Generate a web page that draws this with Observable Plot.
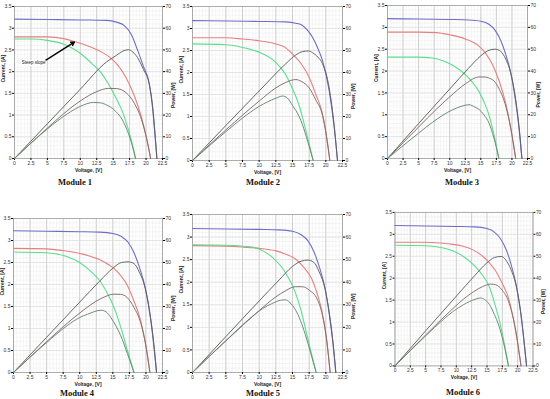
<!DOCTYPE html>
<html><head><meta charset="utf-8">
<script src="https://cdn.jsdelivr.net/npm/d3@7"></script>
<script src="https://cdn.jsdelivr.net/npm/@observablehq/plot@0.6"></script>
<style>
body{margin:0;background:#fff;}
#wrap{position:relative;width:550px;height:399px;overflow:hidden;background:#fff;}
.panel{position:absolute;}
.mlabel{position:absolute;font-family:"Liberation Serif","Times New Roman",serif;font-weight:bold;font-size:8.5px;line-height:10px;transform:translateX(-50%);white-space:nowrap;color:#111;}
</style></head><body><div id="wrap"></div>
<script>
// ---------- data ----------
const moduleNames = ["Module 1","Module 2","Module 3","Module 4","Module 5","Module 6"];
const xTicks = [0,2.5,5,7.5,10,12.5,15,17.5,20,22.5];
const currentTicks = [0,0.5,1,1.5,2,2.5,3,3.5];
const powerTicks = [0,10,20,30,40,50,60,70];

// I-V curves: [voltage V, current A]
const ivBlue = [
  [[0,3.21],[5,3.2],[10,3.19],[14,3.18],[15.5,3.14],[16.7,3.06],[17.7,2.87],[18.7,2.5],[19.6,2.12],[20.5,1.72],[21.0,1.15],[21.35,0.55],[21.65,0]],
  [[0,3.18],[5,3.17],[10,3.16],[14,3.15],[15.5,3.12],[16.5,3.07],[17.3,2.95],[18,2.8],[18.8,2.55],[19.5,2.27],[20.5,1.59],[21.25,0.76],[21.75,0]],
  [[0,3.2],[5,3.19],[10,3.18],[13,3.17],[15,3.14],[16.3,3.07],[17.3,2.93],[18.2,2.7],[19,2.38],[19.9,1.9],[20.7,1.2],[21.2,0.6],[21.6,0]],
  [[0,3.22],[5,3.21],[10,3.2],[13,3.19],[15,3.16],[16.3,3.09],[17.3,2.96],[18.2,2.72],[19,2.4],[19.9,1.92],[20.7,1.22],[21.2,0.6],[21.6,0]],
  [[0,3.19],[5,3.18],[10,3.17],[13,3.16],[15,3.13],[16.3,3.05],[17.3,2.92],[18.2,2.68],[19,2.35],[19.9,1.85],[20.6,1.2],[21.1,0.6],[21.5,0]],
  [[0,3.2],[5,3.19],[10,3.18],[13,3.17],[15,3.13],[16.2,3.05],[17.2,2.9],[18.1,2.66],[18.9,2.33],[19.8,1.82],[20.5,1.2],[21,0.6],[21.45,0]]
];
const ivRed = [
  [[0,2.8],[5,2.8],[7.5,2.76],[9,2.7],[11,2.6],[13,2.47],[14.5,2.33],[15.7,2.15],[17,1.85],[18.2,1.45],[19.3,0.95],[20.1,0.45],[20.7,0]],
  [[0,2.79],[5,2.79],[7.5,2.76],[10,2.72],[12.5,2.65],[14,2.56],[15,2.42],[16.3,2.2],[17.5,1.89],[18.5,1.5],[19.5,1.06],[20.1,0.55],[20.6,0]],
  [[0,2.89],[5,2.89],[7.8,2.88],[10,2.83],[12.6,2.73],[14.7,2.57],[15.8,2.4],[16.9,2.14],[18,1.75],[19,1.26],[19.8,0.7],[20.6,0]],
  [[0,2.82],[5,2.81],[7.5,2.77],[10.2,2.7],[13.2,2.55],[15.2,2.36],[16.2,2.2],[17.2,1.98],[18.2,1.62],[19.2,1.18],[20,0.6],[20.6,0]],
  [[0,2.81],[5,2.8],[7.5,2.78],[10,2.75],[12.4,2.7],[14,2.62],[15.4,2.52],[16.7,2.33],[17.9,2.07],[18.7,1.75],[19.4,1.37],[20.1,0.75],[20.65,0]],
  [[0,2.82],[5,2.82],[7.5,2.8],[9.5,2.77],[11.1,2.73],[12.8,2.64],[14.3,2.5],[15.4,2.35],[16.4,2.17],[17.5,1.88],[18.5,1.55],[19.6,0.85],[20.55,0]]
];
const ivGreen = [
  [[0,2.75],[2.5,2.75],[5,2.72],[7.5,2.63],[9,2.52],[10.5,2.36],[12,2.15],[13.1,1.99],[14.1,1.76],[15.1,1.49],[16.7,0.96],[17.9,0.34],[18.4,0]],
  [[0,2.65],[5,2.63],[7.5,2.57],[10,2.46],[12.5,2.23],[14,1.95],[15,1.63],[16,1.25],[16.5,0.98],[17.3,0.5],[18.1,0]],
  [[0,2.32],[5,2.32],[7.2,2.3],[9,2.23],[10.4,2.14],[12.6,1.91],[14.7,1.53],[15.5,1.3],[16.3,1.0],[17.1,0.55],[17.9,0]],
  [[0,2.74],[5,2.72],[8.15,2.63],[10,2.5],[11.2,2.36],[13.2,2.05],[14.7,1.64],[15.5,1.35],[16.2,1.03],[17.2,0.5],[18.2,0]],
  [[0,2.83],[5,2.82],[8.9,2.78],[10.5,2.7],[11.9,2.56],[13.9,2.22],[15.4,1.78],[16.2,1.42],[16.9,1.0],[17.7,0.5],[18.55,0]],
  [[0,2.75],[5,2.74],[7.9,2.69],[9.5,2.62],[11.1,2.5],[13.2,2.25],[14.3,2.06],[15.4,1.8],[16.2,1.45],[16.9,1.1],[17.7,0.6],[18.5,0]]
];
// P-V curves: [voltage V, power W]
const pvBlue = [
  [[0,0],[5,16],[10,31.9],[14,44.5],[15.5,47.5],[16.5,49.5],[17.3,50.1],[18,49],[18.7,46.5],[19.6,41],[20.5,34],[21,24],[21.35,12],[21.65,0]],
  [[0,0],[5,15.9],[10,31.6],[14,44],[15.5,48],[16.5,49.5],[17.4,49.8],[18,49],[18.8,47],[19.5,44],[20.5,33],[21.25,16],[21.75,0]],
  [[0,0],[5,16],[10,31.8],[13,41.2],[15,47],[16.3,49.5],[17.3,50],[18.2,49],[19,45.5],[19.9,38],[20.7,25],[21.2,13],[21.6,0]],
  [[0,0],[5,16],[10,32],[13,41.5],[15,47.4],[16.3,50],[17.3,50.3],[18.2,49.5],[19,45.6],[19.9,38.2],[20.7,25],[21.2,12.7],[21.6,0]],
  [[0,0],[5,15.9],[10,31.7],[13,41],[15,47],[16.3,49.3],[17.3,49.8],[18.2,48.8],[19,44.6],[19.9,36.8],[20.6,24.7],[21.1,12.7],[21.5,0]],
  [[0,0],[5,16],[10,31.8],[13,41.2],[15,47],[16.2,49.4],[17.3,49.9],[18.1,48.2],[18.9,44],[19.8,36],[20.5,24.6],[21,12.6],[21.45,0]]
];
const pvRed = [
  [[0,0],[5,14],[7.5,20.7],[10,26.5],[12.5,30.8],[14.3,32.3],[15.5,32.2],[17,30.2],[18.2,25.5],[19.3,18],[20.1,9],[20.7,0]],
  [[0,0],[5,13.9],[10,27],[12.5,33],[14,35.5],[15.5,36.8],[16.3,36],[17.5,33],[18.5,27.5],[19.5,20.5],[20.1,11],[20.6,0]],
  [[0,0],[5,14.4],[7.8,22.4],[10,28.2],[12.6,34.3],[14.7,37.3],[15.5,37.3],[16.9,36],[18,31.5],[19,24],[19.8,14],[20.6,0]],
  [[0,0],[5,14],[7.5,20.8],[10.2,27.5],[13.2,33.6],[15.2,35.6],[16.2,35.5],[17.2,34],[18.2,29.5],[19.2,22.6],[20,12],[20.6,0]],
  [[0,0],[5,14],[7.5,20.8],[10,27.4],[12.4,33.3],[14,36.3],[15.4,38],[16.5,38],[17.5,36.5],[18.7,32.5],[19.4,26.5],[20.1,15],[20.65,0]],
  [[0,0],[5,14.1],[7.5,21],[9.5,26.3],[11.1,30.3],[12.8,33.8],[14.3,36.2],[15.6,37.3],[16.4,37],[17.5,34.5],[18.5,29.5],[19.6,17.5],[20.55,0]]
];
const pvGreen = [
  [[0,0],[5,13.6],[8,20.5],[10,24],[12,25.8],[13.1,25.6],[14.1,24.5],[15.1,22.5],[16.7,16],[17.9,6],[18.4,0]],
  [[0,0],[5,13.1],[7.5,19.3],[10,24.6],[12.5,28.3],[13.5,29.3],[14.2,28.5],[15,25],[16,20],[16.5,16.2],[17.3,8.5],[18.1,0]],
  [[0,0],[5,11.6],[7.2,16.5],[10.4,22.2],[12,24],[13.1,24.6],[14,23.6],[14.7,22.5],[15.5,20],[16.3,16.3],[17.1,9.4],[17.9,0]],
  [[0,0],[5,13.6],[8.15,21.4],[10,25],[11.2,26.5],[13.2,28.3],[14,27.5],[14.7,25],[15.5,21],[16.2,16.7],[17.2,8.6],[18.2,0]],
  [[0,0],[5,14.1],[8.9,24.7],[10.5,28.3],[11.9,30.5],[13.2,32],[13.9,32.2],[14.6,31],[15.4,28],[16.2,23],[16.9,17],[17.7,9],[18.55,0]],
  [[0,0],[5,13.7],[7.9,21.2],[9.5,24.9],[11.1,27.8],[13.2,30.5],[13.9,31],[14.6,30.3],[15.4,28],[16.2,23.5],[16.9,18.6],[17.7,10.6],[18.5,0]]
];
const annotation = {text: "Steep slope", tx: 2.9, ty: 2.22, x1: 4.6, y1: 2.25, x2: 9.1, y2: 2.68};

// ---------- layout ----------
const frames = [[14,6,162,158],[192,6,342,160],[387,5,527,158],[13,218,162,372],[192,214,342,372],[395,212,537,370]];
const labelPos = [[75,182],[263,182],[462,182],[77,393],[263,393],[463,392]];
const colors = {blue:"#6e6ec6", red:"#e88080", green:"#5ade8e", pBlue:"#5e5e5e", pRed:"#806a6a", pGreen:"#688670"};
const wrap = document.getElementById("wrap");
const powerMax = powerTicks[powerTicks.length-1], currentMax = currentTicks[currentTicks.length-1];
const ratio = powerMax / currentMax;
const minorX = d3.range(0, 22.5001, 0.5);
const minorY = d3.range(0, 3.5001, 0.1);

moduleNames.forEach((name, i) => {
  const [L,T,R,B] = frames[i];
  const mL = 18, mR = 18, mT = 4, mB = 20;
  const lineOpts = (stroke) => ({x: d => d[0], y: d => d[1], stroke, strokeWidth: 1.1, curve: "monotone-x"});
  const powOpts = (stroke) => ({x: d => d[0], y: d => d[1] / ratio, stroke, strokeWidth: 0.95, curve: "monotone-x"});
  const marks = [
    Plot.gridX(minorX, {stroke: "#ececec", strokeOpacity: 1, strokeWidth: 0.5}),
    Plot.gridY(minorY, {stroke: "#ececec", strokeOpacity: 1, strokeWidth: 0.5}),
    Plot.gridX(xTicks, {stroke: "#c4c4c4", strokeOpacity: 1, strokeWidth: 0.8}),
    Plot.gridY(currentTicks, {stroke: "#dadada", strokeOpacity: 1, strokeWidth: 0.6}),
    Plot.frame({stroke: "#a0a0a0", strokeWidth: 0.8}),
    Plot.axisX(xTicks, {tickSize: 2, tickPadding: 1, label: null, tickFormat: d => String(d), fill: "#333"}),
    Plot.axisY(currentTicks, {anchor: "left", tickSize: 2, tickPadding: 1, label: null, tickFormat: d => String(d), fill: "#333"}),
    Plot.axisY(currentTicks, {anchor: "right", tickSize: 2, tickPadding: 1, label: null, tickFormat: d => String(Math.round(d * ratio)), fill: "#333"}),
    Plot.text(["Voltage, [V]"], {frameAnchor: "bottom", dy: 13, fontWeight: "bold", fontSize: 5, fill: "#222"}),
    Plot.text(["Current, [A]"], {frameAnchor: "left", dx: -11, rotate: -90, fontWeight: "bold", fontSize: 5, fill: "#222"}),
    Plot.text(["Power, [W]"], {frameAnchor: "right", dx: 11, rotate: -90, fontWeight: "bold", fontSize: 5, fill: "#222"}),
    Plot.line(ivBlue[i], lineOpts(colors.blue)),
    Plot.line(ivRed[i], lineOpts(colors.red)),
    Plot.line(ivGreen[i], lineOpts(colors.green)),
    Plot.line(pvBlue[i], powOpts(colors.pBlue)),
    Plot.line(pvRed[i], powOpts(colors.pRed)),
    Plot.line(pvGreen[i], powOpts(colors.pGreen))
  ];
  if (i === 0) {
    marks.push(
      Plot.arrow([annotation], {x1: "x1", y1: "y1", x2: "x2", y2: "y2", stroke: "#000", strokeWidth: 1.4, headLength: 4}),
      Plot.text([annotation], {x: "tx", y: "ty", text: "text", fontSize: 4.5, fill: "#111", stroke: "white", strokeWidth: 2})
    );
  }
  const chart = Plot.plot({
    width: (R - L) + mL + mR,
    height: (B - T) + mT + mB,
    marginLeft: mL, marginRight: mR, marginTop: mT, marginBottom: mB,
    x: {domain: [0, 22.5]},
    y: {domain: [0, currentMax]},
    style: {fontSize: "5px", fontFamily: "'Liberation Sans', Arial, sans-serif", background: "transparent", overflow: "visible"},
    marks
  });
  const div = document.createElement("div");
  div.className = "panel";
  div.style.left = (L - mL) + "px";
  div.style.top = (T - mT) + "px";
  div.appendChild(chart);
  wrap.appendChild(div);
  const lab = document.createElement("div");
  lab.className = "mlabel";
  lab.textContent = name;
  lab.style.left = labelPos[i][0] + "px";
  lab.style.top = (labelPos[i][1] - 5) + "px";
  wrap.appendChild(lab);
});
</script></body></html>
